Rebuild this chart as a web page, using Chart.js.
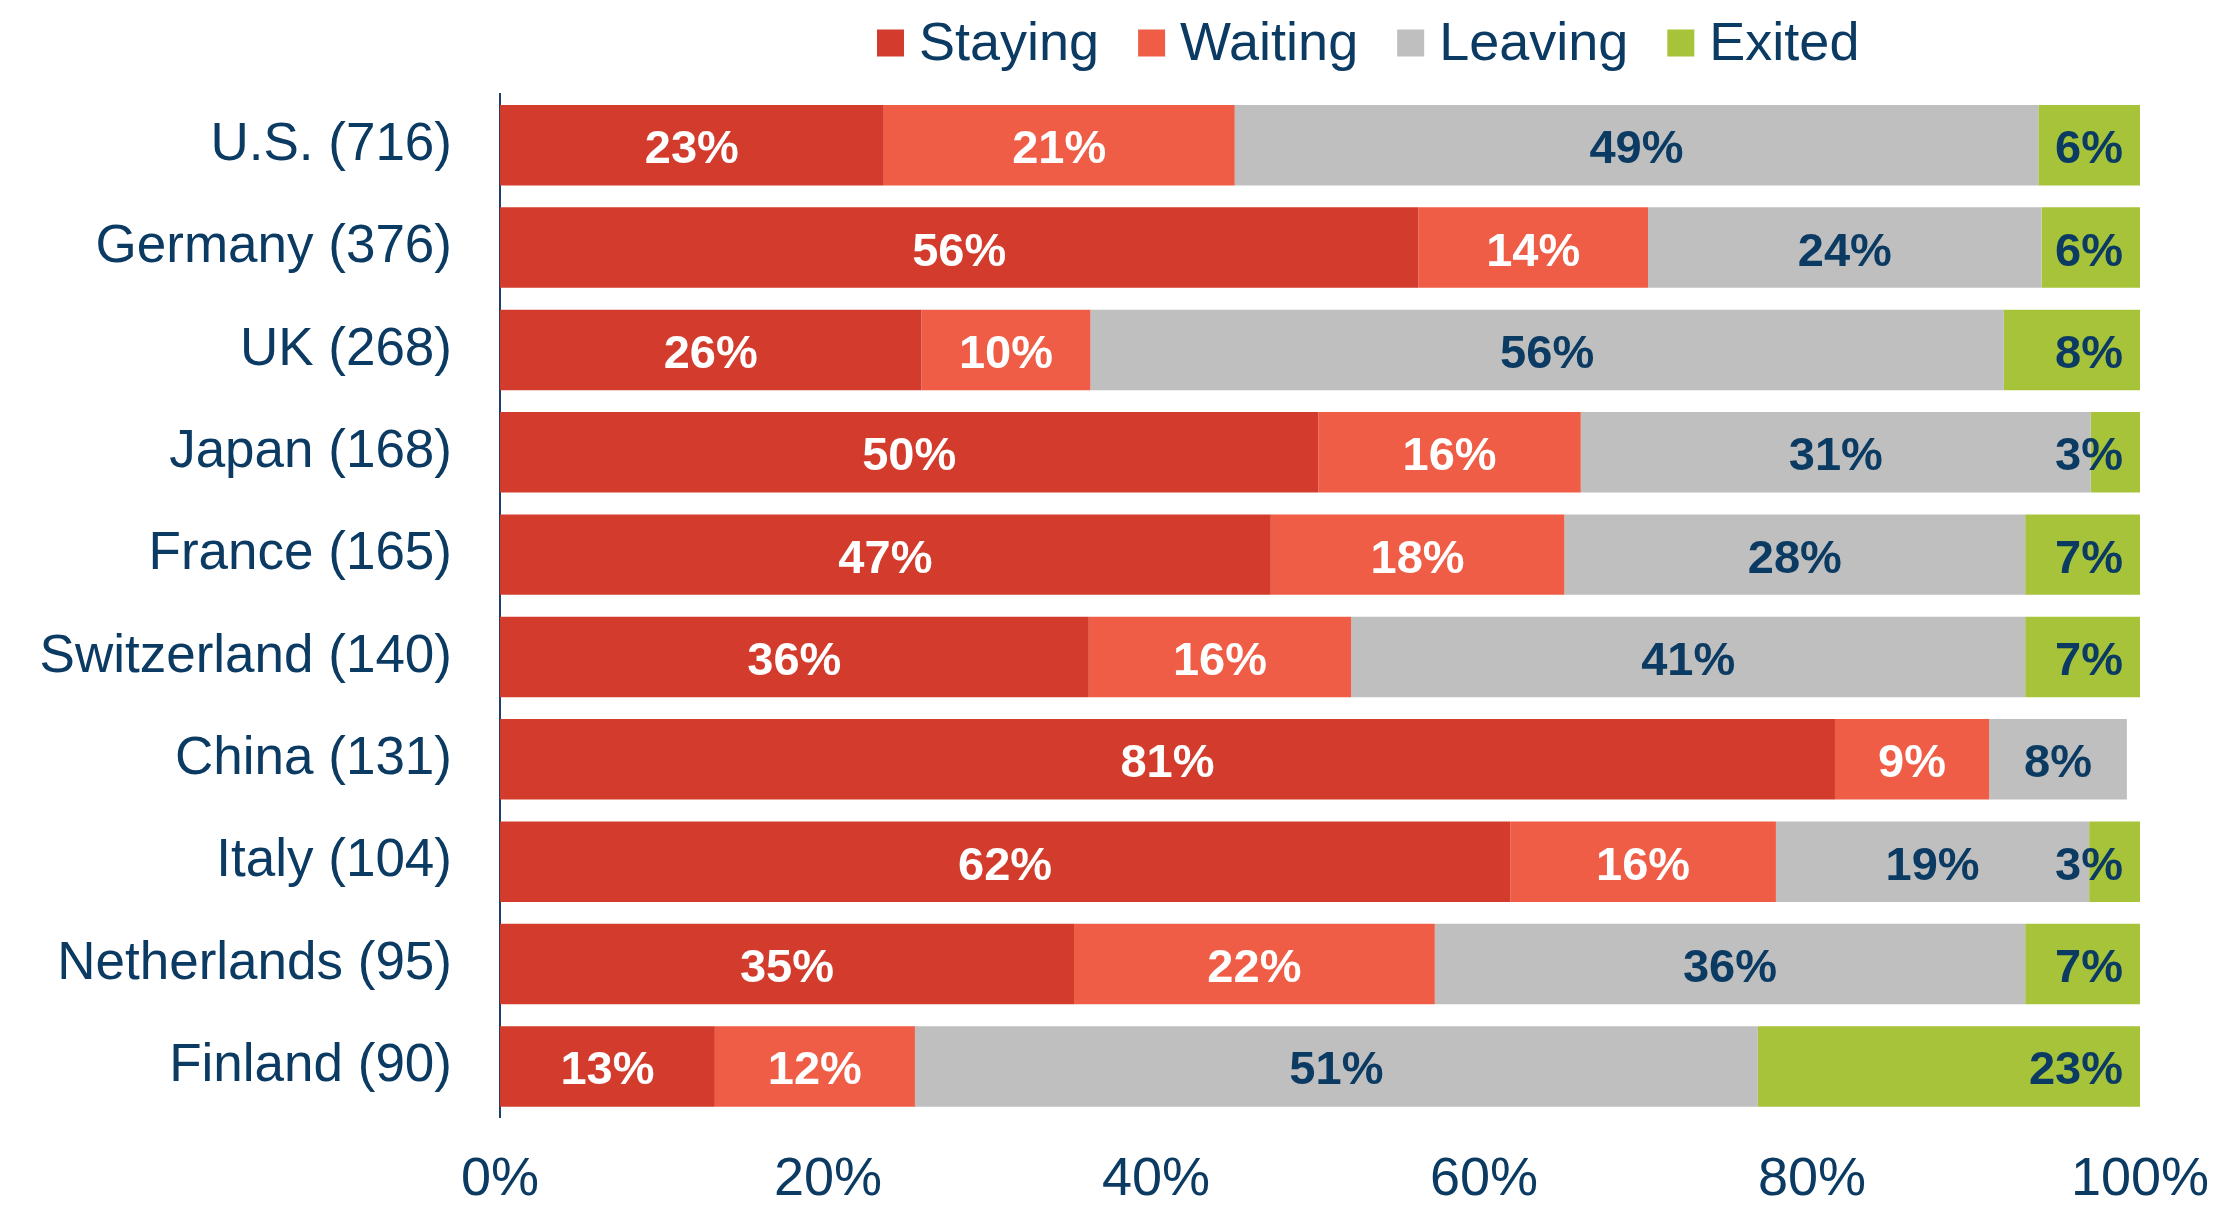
<!DOCTYPE html>
<html>
<head>
<meta charset="utf-8">
<title>Staying, waiting, leaving, exited by country</title>
<script src="https://cdn.jsdelivr.net/npm/chart.js@4/dist/chart.umd.min.js"></script>
<style>
    html, body { margin: 0; padding: 0; background: #ffffff; }
    #wrap { width: 2213px; height: 1207px; }
</style>
</head>
<body>
<div id="wrap"><canvas id="chart" width="2213" height="1207"></canvas></div>
<script>
const countries = ["U.S. (716)", "Germany (376)", "UK (268)", "Japan (168)", "France (165)",
    "Switzerland (140)", "China (131)", "Italy (104)", "Netherlands (95)", "Finland (90)"];

// share of respondents per country, in percent
const staying = [23.4, 56.0, 25.7, 49.9, 47.0, 35.9, 81.4, 61.6, 35.0, 13.1];
const waiting = [21.4, 14.0, 10.3, 16.0, 17.9, 16.0, 9.4, 16.2, 22.0, 12.2];
const leaving = [49.0, 24.0, 55.7, 31.1, 28.1, 41.1, 8.4, 19.1, 36.0, 51.4];
const exited = [6.2, 6.0, 8.3, 3.0, 7.0, 7.0, 0, 3.1, 7.0, 23.3];

const xTicks = [0, 20, 40, 60, 80, 100];

const navy = "#0B3A62";
const font = "'Liberation Sans', Arial, sans-serif";

Chart.defaults.font.family = font;
Chart.defaults.color = navy;

// value labels inside the segments; the last series is pinned to the bar end
const barLabels = {
    id: "barLabels",
    afterDatasetsDraw(chart) {
        const c = chart.ctx;
        c.save();
        c.font = "bold 47px " + font;
        c.textBaseline = "alphabetic";
        chart.data.datasets.forEach((ds, i) => {
            const meta = chart.getDatasetMeta(i);
            meta.data.forEach((bar, j) => {
                const v = ds.data[j];
                if (!v) return;
                c.fillStyle = i < 2 ? "#ffffff" : navy;
                let x;
                if (i === 3) {
                    c.textAlign = "right";
                    x = Math.max(bar.x, bar.base) - 17;
                } else {
                    c.textAlign = "center";
                    x = (bar.x + bar.base) / 2;
                }
                c.fillText(Math.round(v) + "%", x, bar.y + 18);
            });
        });
        c.restore();
    }
};

// single-row legend above the plot
const legendRow = {
    id: "legendRow",
    afterDraw(chart) {
        const c = chart.ctx;
        c.save();
        c.font = "54px " + font;
        c.textAlign = "left";
        c.textBaseline = "alphabetic";
        let x = 877;
        chart.data.datasets.forEach(ds => {
            c.fillStyle = ds.backgroundColor;
            c.fillRect(x, 29.5, 27, 27);
            c.fillStyle = navy;
            c.fillText(ds.label, x + 42, 60);
            x += 42 + c.measureText(ds.label).width + 39;
        });
        c.restore();
    }
};

new Chart(document.getElementById("chart").getContext("2d"), {
    type: "bar",
    data: {
        labels: countries,
        datasets: [
            { label: "Staying", data: staying, backgroundColor: "#D33C2C" },
            { label: "Waiting", data: waiting, backgroundColor: "#F05D46" },
            { label: "Leaving", data: leaving, backgroundColor: "#BFBFBF" },
            { label: "Exited", data: exited, backgroundColor: "#A6C33A" }
        ]
    },
    options: {
        indexAxis: "y",
        responsive: false,
        animation: false,
        layout: { padding: { top: 94, right: 73, left: 0, bottom: 0 } },
        datasets: {
            bar: { barPercentage: 0.786, categoryPercentage: 1.0, borderWidth: 0 }
        },
        plugins: {
            legend: { display: false },
            tooltip: { enabled: false }
        },
        scales: {
            x: {
                stacked: true,
                min: 0,
                max: 100,
                afterBuildTicks: scale => {
                    scale.ticks = xTicks.map(v => ({ value: v }));
                },
                afterFit: scale => {
                    scale.height = 89.4;
                    scale.paddingLeft = 0;
                    scale.paddingRight = 0;
                },
                grid: { display: false, drawTicks: false },
                border: { display: false },
                ticks: {
                    padding: 30,
                    color: navy,
                    font: { size: 54 },
                    maxRotation: 0,
                    callback: v => v + "%"
                }
            },
            y: {
                stacked: true,
                afterFit: scale => { scale.width = 500; },
                grid: { display: false, drawTicks: false },
                border: { display: true, color: "#1F3F66", width: 2 },
                ticks: {
                    padding: 48,
                    color: navy,
                    font: { size: 53 }
                }
            }
        }
    },
    plugins: [barLabels, legendRow]
});
</script>
</body>
</html>
